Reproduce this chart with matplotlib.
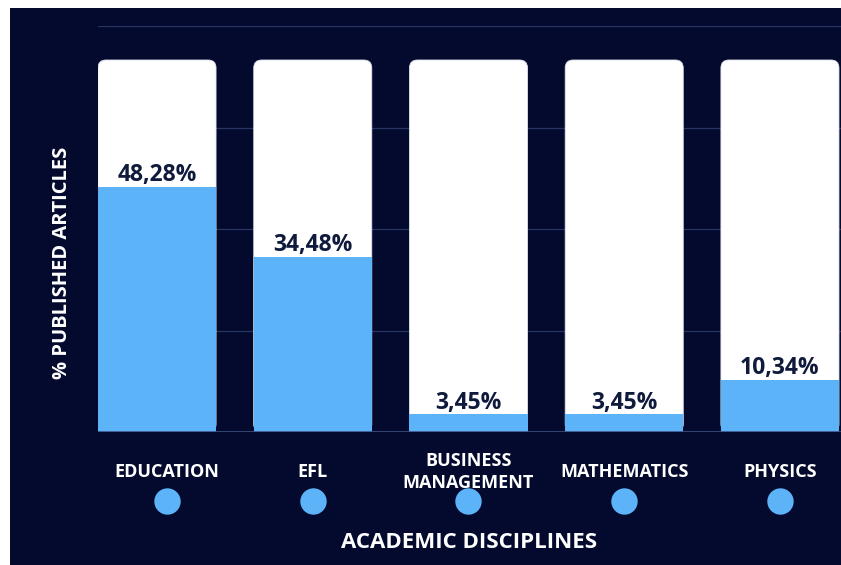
import matplotlib
matplotlib.use("Agg")
import matplotlib.pyplot as plt
import matplotlib.transforms as mtransforms
from matplotlib.patches import FancyBboxPatch, Rectangle

categories = ["EDUCATION", "EFL", "BUSINESS\nMANAGEMENT", "MATHEMATICS", "PHYSICS"]
values = [48.28, 34.48, 3.45, 3.45, 10.34]
labels = ["48,28%", "34,48%", "3,45%", "3,45%", "10,34%"]
track = [73.3, 73.3, 73.3, 73.3, 73.3]
yticks = [0, 20, 40, 60, 80]

NAVY = "#030a2e"
BLUE = "#5db3f8"
TEXT_DARK = "#101a3c"
GRID = "#283461"

plt.rcParams['font.family'] = ['Open Sans', 'DejaVu Sans']

W, H = 841, 565
fig = plt.figure(figsize=(W / 100, H / 100), dpi=100)
fig.patch.set_facecolor("white")
fig.add_artist(Rectangle((10 / W, 0), (W - 10) / W, (H - 8) / H,
                         transform=fig.transFigure, facecolor=NAVY,
                         edgecolor="none", zorder=0))

ax_l, ax_r, ax_t, ax_b = 98, 841, 26, 432
ax = fig.add_axes([ax_l / W, (H - ax_b) / H, (ax_r - ax_l) / W, (ax_b - ax_t) / H])
ax.set_facecolor("none")

x = list(range(len(categories)))
width = 0.758
xlim = (-0.379, 4.392)
ylim = (0, 80)
ax.set_xlim(*xlim)
ax.set_ylim(*ylim)

# grid lines
for yv in yticks[1:]:
    ax.axhline(yv, color=GRID, lw=0.9, zorder=0.5)

# rounded background tracks
px_per_x = (ax_r - ax_l) / (xlim[1] - xlim[0])
px_per_y = (ax_b - ax_t) / (ylim[1] - ylim[0])
r_px = 8
r_x = r_px / px_per_x
aspect = (r_px / px_per_y) / r_x
for xi, t in zip(x, track):
    p = FancyBboxPatch((xi - width / 2, 0), width, t,
                       boxstyle=f"round,pad=0,rounding_size={r_x}",
                       mutation_aspect=aspect, facecolor="white",
                       edgecolor="#dfe4f0", lw=0.6, zorder=1)
    ax.add_patch(p)

bars = ax.bar(x, values, width=width, color=BLUE, zorder=2, linewidth=0)

for xi, v, lab in zip(x, values, labels):
    ax.annotate(lab, (xi, v), xytext=(0, 4), textcoords="offset points",
                ha="center", va="baseline", fontsize=16.5, fontweight="bold",
                color=TEXT_DARK, zorder=3)

ax.axhline(0, color="#3f4f80", lw=1.2, zorder=2.5)

for s in ax.spines.values():
    s.set_visible(False)
ax.set_xticks([])
ax.set_yticks([])

trans = ax.get_xaxis_transform()
shift_px = [10, 0, 0, 0, 0]
for xi, c, sp in zip(x, categories, shift_px):
    tr = trans + mtransforms.ScaledTranslation(sp / 100, 0, fig.dpi_scale_trans)
    ax.text(xi, -40 / (ax_b - ax_t), c, transform=tr, ha="center",
            va="center", fontsize=13, fontweight="bold", color="white",
            linespacing=1.35)
    ax.plot([xi], [-69 / (ax_b - ax_t)], "o", transform=tr,
            clip_on=False, markersize=19, color=BLUE, markeredgewidth=0)

ax.text((469 - ax_l) / (ax_r - ax_l), -110 / (ax_b - ax_t),
        "ACADEMIC DISCIPLINES", transform=ax.transAxes, ha="center",
        va="center", fontsize=16, fontweight="bold", color="white")
ax.text(-36 / (ax_r - ax_l), (ax_b - 263) / (ax_b - ax_t),
        "% PUBLISHED ARTICLES", transform=ax.transAxes, ha="center",
        va="center", rotation=90, fontsize=14.5, fontweight="bold",
        color="white")

fig.savefig("out.png", dpi=100, facecolor=fig.get_facecolor())
